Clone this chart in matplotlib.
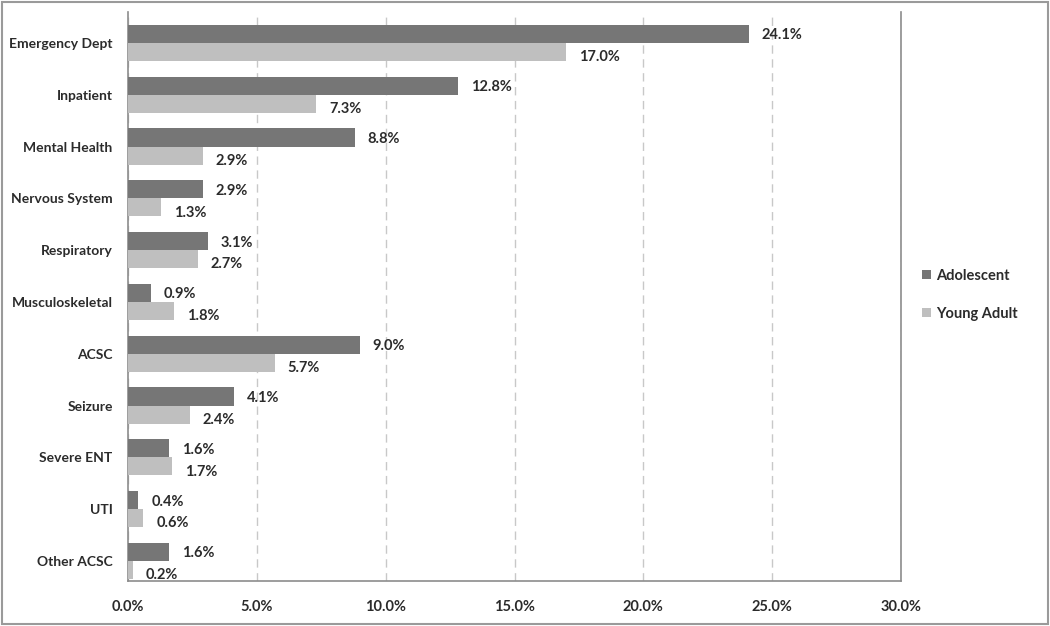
import matplotlib.pyplot as plt
import numpy as np

categories = ['Emergency Dept', 'Inpatient', 'Mental Health', 'Nervous System', 'Respiratory',
              'Musculoskeletal', 'ACSC', 'Seizure', 'Severe ENT', 'UTI', 'Other ACSC']
adolescent = [24.1, 12.8, 8.8, 2.9, 3.1, 0.9, 9.0, 4.1, 1.6, 0.4, 1.6]
young_adult = [17.0, 7.3, 2.9, 1.3, 2.7, 1.8, 5.7, 2.4, 1.7, 0.6, 0.2]
xticks = [0, 5, 10, 15, 20, 25, 30]

plt.rcParams['font.family'] = ['Lato', 'DejaVu Sans']
plt.rcParams['font.weight'] = 'bold'

fig = plt.figure(figsize=(10.5, 6.26), dpi=100)
ax = fig.add_axes([0.1219, 0.072, 0.7362, 0.909])

y = np.arange(len(categories))
h = 0.35
c1 = '#767676'
c2 = '#bfbfbf'
txt = '#2b2b2b'
fs = 10.5

ax.barh(y - h / 2, adolescent, height=h, color=c1, label='Adolescent', zorder=3)
ax.barh(y + h / 2, young_adult, height=h, color=c2, label='Young Adult', zorder=3)

for i in range(len(categories)):
    ax.text(adolescent[i] + 0.5, y[i] - h / 2 + 0.03, f'{adolescent[i]:.1f}%', va='center', ha='left',
            fontsize=fs, fontweight='bold', color=txt)
    ax.text(young_adult[i] + 0.5, y[i] + h / 2 + 0.1, f'{young_adult[i]:.1f}%', va='center', ha='left',
            fontsize=fs, fontweight='bold', color=txt)

ax.set_xlim(0, 30)
ax.set_ylim(len(categories) - 1 + 0.386, -0.6)
ax.set_yticks(y)
ax.set_yticklabels(categories, fontsize=10, fontweight='bold', color=txt)
ax.set_xticks(xticks)
ax.set_xticklabels([f'{v:.1f}%' for v in xticks], fontsize=fs, fontweight='bold', color=txt)
ax.tick_params(axis='both', length=0)
ax.tick_params(axis='x', pad=14)
ax.tick_params(axis='y', pad=11)

ax.grid(axis='x', color='#c8c8c8', linestyle=(0, (6, 4)), linewidth=1, zorder=0)
ax.set_axisbelow(True)
for s in ['left', 'right', 'bottom']:
    ax.spines[s].set_color('#8c8c8c')
    ax.spines[s].set_linewidth(1.2)
ax.spines['top'].set_visible(False)

leg = ax.legend(loc='center left', bbox_to_anchor=(1.01, 0.503), frameon=False, fontsize=fs,
                handlelength=0.6, handleheight=0.6, handletextpad=0.4, labelspacing=1.65)
for t in leg.get_texts():
    t.set_color(txt)

fig.patches.append(plt.Rectangle((0.002, 0.003), 0.996, 0.994, transform=fig.transFigure,
                                 fill=False, edgecolor='#9a9a9a', linewidth=1.5))

fig.savefig('out.png', dpi=100)
